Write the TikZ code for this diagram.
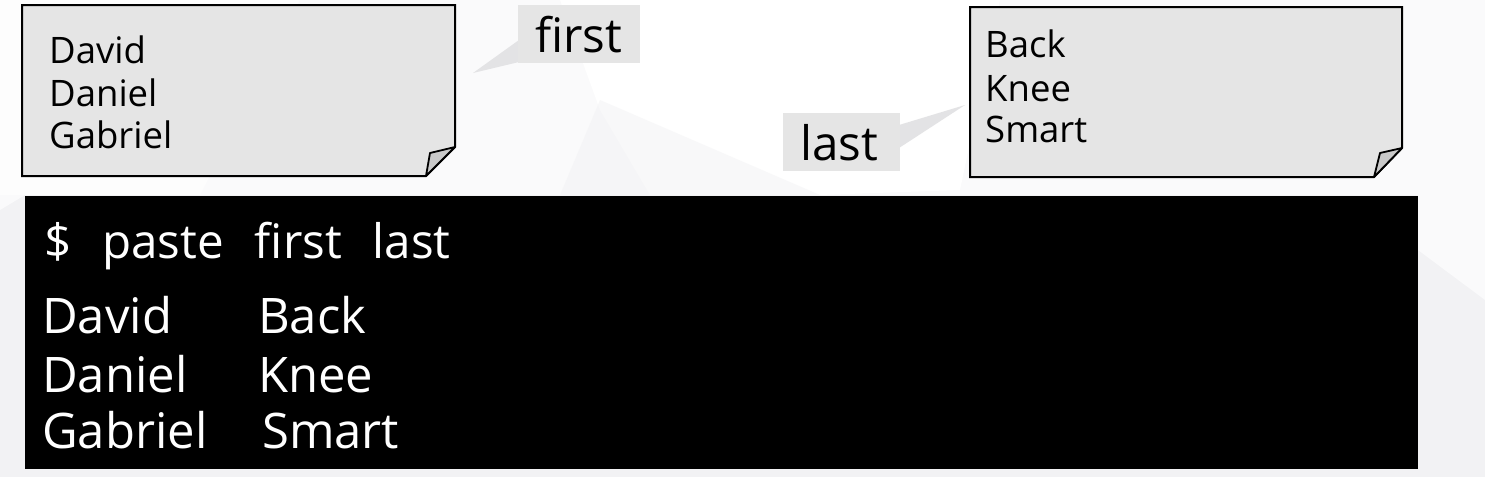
\documentclass[tikz,border=0pt]{standalone}
\usepackage{fontspec}
\setmainfont{Open Sans}
\begin{document}
\begin{tikzpicture}[x=1pt,y=-1pt,
  notebox/.style={draw=black,line width=2pt,fill=notegray,line join=miter},
  foldtri/.style={draw=black,line width=1.8pt,fill=foldgray,line join=round},
  notetext/.style={anchor=base west,inner sep=0pt,font=\fontsize{36.5}{42}\selectfont,text=black},
  labelbox/.style={fill=labelgray,draw=none},
  labeltext/.style={anchor=base west,inner sep=0pt,font=\fontsize{47.5}{50}\selectfont,text=black},
  tail/.style={fill=tailgray,draw=none},
  termtext/.style={anchor=base west,inner sep=0pt,font=\fontsize{49}{56}\selectfont,text=white},
  cmdtext/.style={anchor=base west,inner sep=0pt,font=\fontsize{47.5}{50}\selectfont,text=white}
]
\definecolor{bggray}{HTML}{F2F2F4}
\definecolor{bglight}{HTML}{FAFAFB}
\definecolor{notegray}{HTML}{E5E5E5}
\definecolor{foldgray}{HTML}{C9C9C9}
\definecolor{labelgray}{HTML}{E5E5E5}
\definecolor{tailgray}{HTML}{E3E3E5}
\useasboundingbox (0,0) rectangle (1485,477);
% background
\fill[bggray] (0,0) rectangle (1485,477);
\fill[bglight] (0,0) -- (1485,0) -- (1485,300) -- (1418,250) -- (1418,195) -- (25,195) -- (0,210) -- cycle;
\fill[white] (560,0) -- (1000,0) -- (960,190) -- (820,195) -- (650,195) -- (600,110) -- cycle;
\fill[white,opacity=0.6] (0,0) -- (300,0) -- (200,195) -- (0,195) -- cycle;
\fill[bggray,opacity=0.5] (600,100) -- (820,195) -- (560,195) -- cycle;
% note 1
\draw[notebox] (22,5) -- (455,5) -- (455,147) -- (426,176) -- (22,176) -- cycle;
\draw[foldtri] (455,147) -- (430,153) -- (426,176) -- cycle;
\node[notetext] (n1a) at (49,63) {David};
\node[notetext] (n1b) at (49,106) {Daniel};
\node[notetext] (n1c) at (49,148) {Gabriel};
% label first
\fill[tail] (519,40) -- (473,73) -- (519,62) -- cycle;
\node[labelbox,minimum width=122pt,minimum height=58pt,anchor=north west,inner sep=0pt] (firstbox) at (518,5) {};
\node[labeltext] (firstlbl) at (535,52) {first};
% note 2
\draw[notebox] (970,7) -- (1402,7) -- (1402,148) -- (1374,177) -- (970,177) -- cycle;
\draw[foldtri] (1402,148) -- (1380,153) -- (1374,177) -- cycle;
\node[notetext] (n2a) at (985,57) {Back};
\node[notetext] (n2b) at (985,101) {Knee};
\node[notetext] (n2c) at (985,142) {Smart};
% label last
\fill[tail] (899,125) -- (965,105) -- (899,148) -- cycle;
\node[labelbox,minimum width=117pt,minimum height=58pt,anchor=north west,inner sep=0pt] (lastbox) at (783,113) {};
\node[labeltext] (lastlbl) at (800,160) {last};
% terminal
\node[fill=black,minimum width=1393pt,minimum height=273pt,anchor=north west,inner sep=0pt] (term) at (25,196) {};
\node[cmdtext] (cmd) at (44,258) {\$\hspace{31pt}paste\hspace{31pt}first\hspace{31pt}last};
\node[termtext] (o1a) at (42,333) {David};
\node[termtext] (o1b) at (42,392) {Daniel};
\node[termtext] (o1c) at (42,448) {Gabriel};
\node[termtext] (o2a) at (258,333) {Back};
\node[termtext] (o2b) at (258,392) {Knee};
\node[termtext] (o2c) at (262,448) {Smart};
\end{tikzpicture}
\end{document}
